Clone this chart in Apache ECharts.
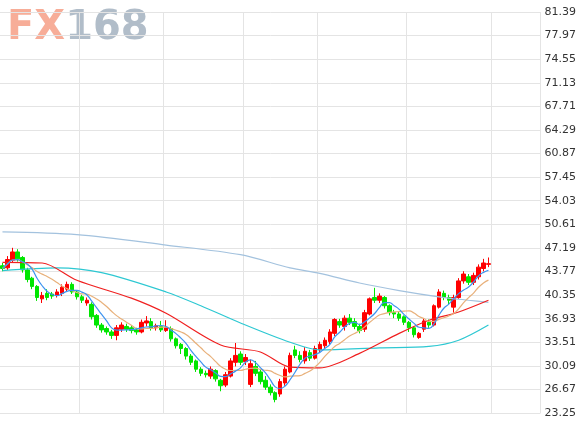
<!DOCTYPE html>
<html>
<head>
<meta charset="utf-8">
<script src="https://cdn.jsdelivr.net/npm/echarts@6/dist/echarts.min.js"></script>
<style>html,body{margin:0;padding:0;background:#fff}#chart{width:579px;height:422px}</style>
</head>
<body>
<div id="chart"></div>
<script>
// [open, close, low, high]
var candles = [
  [44.6,44.2,43.8,45.0],[44.3,45.5,44.0,46.0],[45.4,46.6,45.0,47.2],[46.6,45.6,45.2,47.0],[45.8,44.0,43.6,46.0],
  [44.0,42.6,42.2,44.3],[42.8,41.6,41.2,43.0],[41.6,40.0,39.5,41.8],[39.8,40.3,39.2,40.8],[40.6,40.0,39.6,41.2],
  [40.5,40.2,39.8,40.8],[40.3,40.8,40.0,41.2],[40.6,41.5,40.2,41.9],[41.2,41.9,40.9,42.3],[41.9,40.8,40.5,42.2],
  [40.8,40.1,39.7,41.0],[40.1,39.6,39.2,40.4],[39.2,39.6,38.8,40.0],[39.0,37.2,36.8,39.3],[37.4,36.0,35.6,37.6],
  [36.0,35.3,34.9,36.3],[35.5,35.0,34.6,35.8],[35.0,34.5,34.0,35.3],[34.5,35.6,33.8,36.0],[35.4,36.0,35.0,36.4],
  [35.8,35.4,35.0,36.2],[35.6,35.2,34.8,36.0],[35.3,35.0,34.6,35.6],[35.0,36.4,34.8,36.8],[36.3,36.6,35.8,37.3],
  [36.5,35.5,35.2,37.0],[35.6,35.9,35.2,36.2],[35.8,35.3,35.0,36.6],[35.2,35.6,35.0,36.7],[35.5,34.0,33.6,35.8],
  [34.0,33.0,32.6,34.2],[33.2,32.6,31.8,33.4],[32.6,31.5,31.0,32.8],[31.5,30.6,30.2,31.8],[30.8,29.6,29.2,31.0],
  [29.6,29.0,28.6,29.9],[29.0,28.8,28.4,29.4],[28.6,29.6,28.2,30.0],[29.4,28.2,27.8,29.6],[28.0,27.2,26.4,28.2],
  [27.3,28.8,27.0,29.2],[28.6,30.8,28.4,31.2],[30.6,31.6,30.0,33.4],[31.8,30.6,30.2,32.2],[30.7,31.3,30.2,31.8],
  [27.4,30.4,27.0,31.0],[30.0,29.0,28.6,30.8],[29.2,27.8,27.4,29.6],[28.0,27.0,26.6,28.6],[27.0,26.2,25.8,27.4],
  [26.2,25.2,24.8,26.4],[26.0,27.8,25.6,28.2],[27.6,29.6,27.2,30.0],[29.2,31.6,29.0,32.0],[32.4,31.6,31.2,33.0],
  [31.6,31.0,30.6,32.2],[30.8,32.2,30.4,32.8],[32.0,31.2,30.8,32.4],[31.2,32.6,31.0,33.0],[32.4,33.2,32.0,33.6],
  [33.0,33.8,32.6,34.2],[33.6,35.0,33.2,35.4],[34.8,36.8,34.4,37.0],[36.5,36.0,35.6,36.9],[35.8,37.0,35.2,37.4],
  [37.0,36.4,36.0,37.6],[36.5,35.8,35.4,37.0],[35.8,35.2,34.8,36.2],[35.4,37.8,35.0,38.2],[37.6,39.8,37.4,40.0],
  [40.0,39.6,39.2,41.4],[39.6,40.2,39.2,40.6],[40.0,38.8,38.4,40.2],[38.8,37.8,37.4,39.0],[37.8,37.6,37.0,38.2],
  [37.6,37.0,36.6,37.9],[37.2,36.4,36.0,37.4],[36.4,35.6,35.0,36.6],[35.6,34.6,34.2,35.8],[34.2,34.8,34.0,35.0],
  [35.4,36.6,35.0,37.0],[36.4,36.0,35.6,36.8],[36.0,38.8,35.8,39.0],[38.6,40.8,38.4,41.2],[40.6,40.0,39.6,41.0],
  [40.0,39.6,39.0,40.4],[38.6,40.0,37.8,40.4],[40.0,42.4,39.8,42.8],[42.4,43.4,42.0,43.8],[43.0,42.2,41.8,43.4],
  [42.2,43.2,41.8,43.6],[43.0,44.4,42.6,44.8],[44.2,45.0,43.8,45.6],[44.8,44.9,44.4,45.8]
];
// long moving averages: [candle index, value]
var maLong = [[0,49.5],[15,49.1],[33,47.6],[48,46.2],[58,44.3],[64,43.5],[72,42.1],[80,41.0],[88,40.1],[94,39.6],[98,39.3]];
var maMid = [[0,43.9],[11,44.3],[20,43.6],[33,40.8],[40,38.8],[48,36.3],[58,33.5],[64,32.4],[76,32.7],[86,32.9],[92,33.8],[98,36.0]];
var ma20 = [[0,45.1],[8,45.0],[15,42.5],[26,39.9],[33,37.7],[44,33.1],[52,32.1],[58,29.9],[64,29.8],[72,31.9],[80,34.8],[86,36.7],[92,37.9],[98,39.6]];
var monthLines = [16, 33, 49, 64, 82, 99];
var totalSlots = 109;

var categories = [];
for (var i = 0; i < totalSlots; i++) categories.push(i);

function movingAvg(n) {
  var out = [];
  for (var i = 0; i < candles.length; i++) {
    var s = 0, c = 0;
    for (var j = Math.max(0, i - n + 1); j <= i; j++) { s += candles[j][1]; c++; }
    out.push(+(s / c).toFixed(2));
  }
  return out;
}

var chart = echarts.init(document.getElementById('chart'));
chart.setOption({
  animation: false,
  graphic: [{
    type: 'text', left: 7, top: 9,
    style: {
      text: '{a|FX}{b|168}',
      rich: {
        a: { fill: '#f7ad98', fontSize: 40, fontWeight: 'bold', fontFamily: 'DejaVu Sans' },
        b: { fill: '#b1bdc9', fontSize: 40, fontWeight: 'bold', fontFamily: 'DejaVu Sans' }
      }
    }
  }],
  grid: { left: 0, right: 32, top: 12, bottom: 9 },
  xAxis: {
    type: 'category', data: categories, boundaryGap: true,
    axisLine: { show: false }, axisTick: { show: false }, axisLabel: { show: false },
    splitLine: {
      show: true,
      interval: function (idx) { return monthLines.indexOf(idx) >= 0; },
      lineStyle: { color: '#e4e4e4' }
    }
  },
  yAxis: {
    type: 'value', position: 'right', min: 23.25, max: 81.39, interval: 3.42,
    axisLine: { show: false }, axisTick: { show: false },
    axisLabel: { color: '#333', fontSize: 11, fontFamily: 'DejaVu Sans', margin: 4,
      formatter: function (v) { return v.toFixed(2); } },
    splitLine: { lineStyle: { color: '#e4e4e4' } }
  },
  series: [
    { type: 'line', data: maLong, smooth: 0.3, symbol: 'none', lineStyle: { color: '#a3c2de', width: 1.2 } },
    { type: 'line', data: maMid, smooth: 0.3, symbol: 'none', lineStyle: { color: '#2dc8d2', width: 1.2 } },
    { type: 'line', data: ma20, smooth: 0.3, symbol: 'none', lineStyle: { color: '#f02020', width: 1.2 } },
    {
      type: 'candlestick', data: candles, barWidth: 4,
      itemStyle: { color: '#ff0000', color0: '#00e600', borderColor: '#ff0000', borderColor0: '#00e600', borderWidth: 1 }
    },
    { type: 'line', data: movingAvg(10), smooth: true, symbol: 'none', lineStyle: { color: '#e8b07a', width: 1.2 } },
    { type: 'line', data: movingAvg(5), smooth: true, symbol: 'none', lineStyle: { color: '#3d93f0', width: 1.2 } }
  ]
});
</script>
</body>
</html>
